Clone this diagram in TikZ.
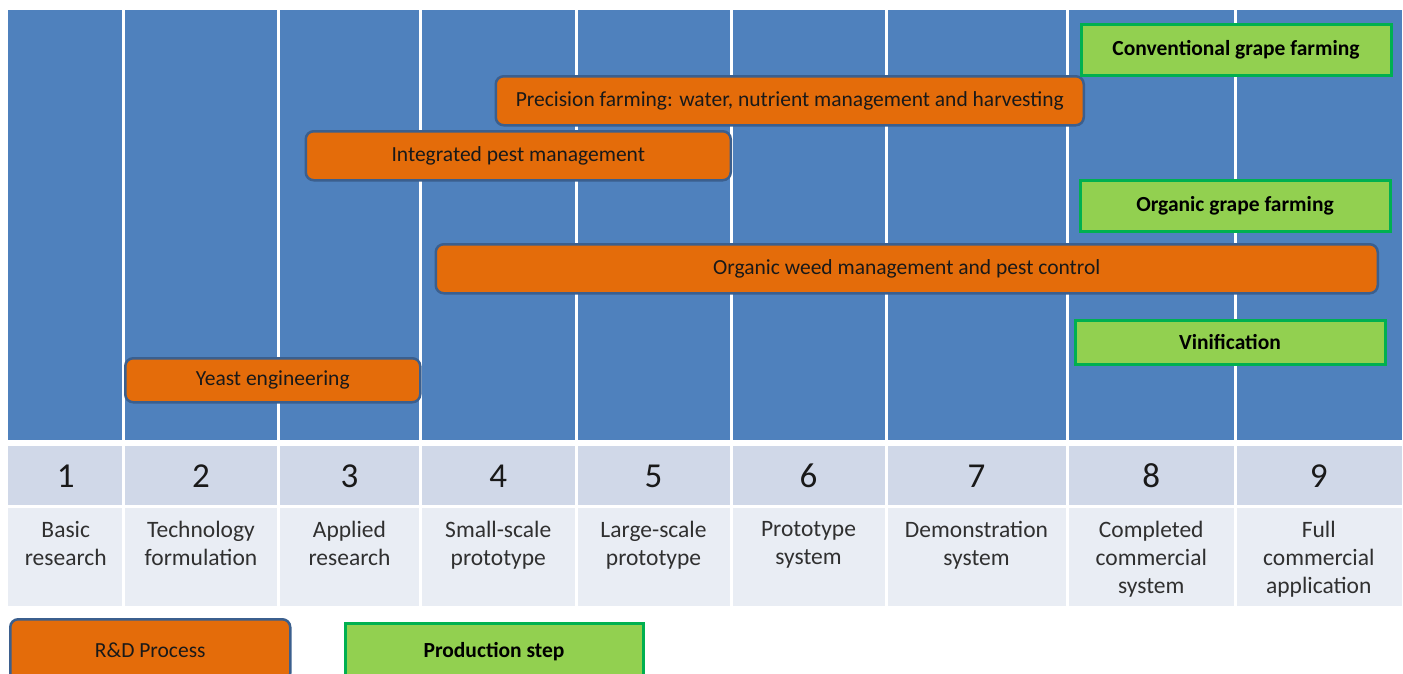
\documentclass[tikz,border=0pt]{standalone}
\usepackage{fontspec}
\setmainfont{Carlito}
\definecolor{cellblue}{HTML}{4F81BD}
\definecolor{numrow}{HTML}{D0D8E8}
\definecolor{labrow}{HTML}{E9EDF4}
\definecolor{rdfill}{HTML}{E46C0A}
\definecolor{rdline}{HTML}{3B5F8E}
\definecolor{prfill}{HTML}{92D050}
\definecolor{prline}{HTML}{00B050}
\definecolor{labtext}{HTML}{303030}
\tikzset{
  rdbox/.style={draw=rdline, fill=rdfill, line width=2.5pt, rounded corners=8pt,
    anchor=north west, inner sep=0pt, font=\fontsize{21.5}{24}\selectfont, text=black!90},
  prbox/.style={draw=prline, fill=prfill, line width=3pt,
    anchor=north west, inner sep=0pt, font=\bfseries\fontsize{21.5}{24}\selectfont, text=black},
  numtxt/.style={font=\fontsize{35}{40}\selectfont, text=black!90},
  labtxt/.style={anchor=north, align=center, inner sep=0pt, font=\fontsize{23.5}{28}\selectfont, text=labtext}
}
\begin{document}
\begin{tikzpicture}[x=1pt,y=-1pt]
\useasboundingbox (0,0) rectangle (1403,673);
\foreach \l/\r [count=\i] in {8/123.5,123.5/278.5,278.5/420.5,420.5/576,576/731,731/886,886/1067,1067/1235.5,1235.5/1402}{
  \pgfmathsetmacro{\lx}{\i==1 ? \l : \l+1.5}
  \pgfmathsetmacro{\rx}{\i==9 ? \r : \r-1.5}
  \fill[cellblue] (\lx,10) rectangle (\rx,440);
  \fill[numrow] (\lx,446) rectangle (\rx,505);
  \fill[labrow] (\lx,507.5) rectangle (\rx,606);
  \node[numtxt] (n\i) at ({(\l+\r)/2},476) {\i};
}
\node[labtxt] (l1) at ({(8+123.5)/2},521) {Basic\\research};
\node[labtxt] (l2) at ({(123.5+278.5)/2},521) {Technology\\formulation};
\node[labtxt] (l3) at ({(278.5+420.5)/2},521) {Applied\\research};
\node[labtxt] (l4) at ({(420.5+576)/2},521) {Small-scale\\prototype};
\node[labtxt] (l5) at ({(576+731)/2},521) {Large-scale\\prototype};
\node[labtxt] (l6) at ({(731+886)/2},521) {Prototype\\system};
\node[labtxt] (l7) at ({(886+1067)/2},521) {Demonstration\\system};
\node[labtxt] (l8) at ({(1067+1235.5)/2},521) {Completed\\commercial\\system};
\node[labtxt] (l9) at ({(1235.5+1402)/2},521) {Full\\commercial\\application};
% R&D boxes
\node[rdbox, minimum width=295pt, minimum height=44pt] (yeast) at (124,357) {Yeast engineering};
\node[rdbox, minimum width=425pt, minimum height=49pt] (ipm) at (304.5,130) {Integrated pest management};
\node[rdbox, minimum width=588pt, minimum height=49pt] (prec) at (494.5,75) {Precision farming: water, nutrient management and harvesting};
\node[rdbox, minimum width=942pt, minimum height=49pt] (weed) at (434.5,243) {Organic weed management and pest control};
% production boxes
\node[prbox, minimum width=310pt, minimum height=51pt] (conv) at (1079.5,22.5) {Conventional grape farming};
\node[prbox, minimum width=310pt, minimum height=51pt] (org) at (1078.5,178.5) {Organic grape farming};
\node[prbox, minimum width=310pt, minimum height=44pt] (vin) at (1073.5,318.5) {Vinification};
% legend
\node[rdbox, minimum width=280pt, minimum height=62pt] (legrd) at (9,618) {R\&D Process};
\node[prbox, minimum width=298pt, minimum height=58pt] (legpr) at (343.5,621.5) {Production step};
\end{tikzpicture}
\end{document}
